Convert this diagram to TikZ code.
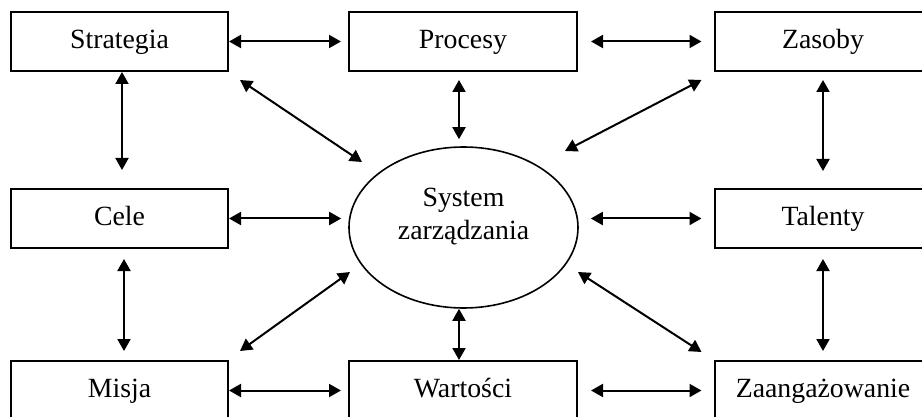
\documentclass[tikz,border=0pt]{standalone}
\usepackage{fontspec}
\setmainfont{Liberation Serif}
\usetikzlibrary{calc,arrows.meta,shapes.geometric}
\begin{document}
\begin{tikzpicture}[x=0.5pt,y=-0.5pt,
  txt/.style={font=\fontsize{13.9}{16.5}\selectfont},
  box/.style={txt,draw,line width=1pt,minimum height=29.5pt,inner sep=0pt,text height=9.6pt,text depth=3pt},
  sidebox/.style={box,minimum width=108.5pt},
  midbox/.style={box,minimum width=114pt},
  arr/.style={{Triangle[length=6pt,width=6.5pt]}-{Triangle[length=6pt,width=6.5pt]},line width=1pt}]
\useasboundingbox (0,0) rectangle (922,417);
\clip (0,0) rectangle (922,417);
\node[sidebox] (strat) at (119.5,41.5) {Strategia};
\node[midbox] (proc) at (463,41.5) {Procesy};
\node[sidebox] (zas) at (823,41.5) {Zasoby};
\node[sidebox] (cele) at (119.5,218.5) {Cele};
\node[sidebox] (tal) at (823,218.5) {Talenty};
\node[sidebox] (misja) at (119.5,390.5) {Misja};
\node[midbox] (wart) at (463,390.5) {Wartości};
\node[sidebox] (zaa) at (823,390.5) {Zaangażowanie};
\node[ellipse,draw,line width=0.8pt,minimum width=114.5pt,minimum height=80.5pt,inner sep=0pt] (sys) at (463.5,227.5) {};
\node[txt,align=center,inner sep=0pt] (systxt) at (463.5,216) {\strut System\\zarządzania\strut};
% horizontal
\draw[arr] (strat.east) -- ($(proc.west)+(-7,0)$);
\draw[arr] ($(proc.east)+(13,0)$) -- ($(zas.west)+(-12,0)$);
\draw[arr] (cele.east) -- ($(cele.east -| sys.west)+(-7,0)$);
\draw[arr] ($(tal.west -| sys.east)+(12,0)$) -- ($(tal.west)+(-12,0)$);
\draw[arr] (misja.east) -- ($(wart.west)+(-7,0)$);
\draw[arr] ($(wart.east)+(13,0)$) -- ($(zaa.west)+(-12,0)$);
% vertical
\draw[arr] ($(strat.south)+(2.5,0)$) -- ($(cele.north)+(2.5,-18)$);
\draw[arr] ($(cele.south)+(4.5,10)$) -- ($(misja.north)+(4.5,-9)$);
\draw[arr] ($(zas.south)+(0,8)$) -- ($(tal.north)+(0,-17)$);
\draw[arr] ($(tal.south)+(0,10)$) -- ($(zaa.north)+(0,-9)$);
\draw[arr] ($(proc.south)+(-4,8)$) -- ($(sys.north)+(-4.5,-7)$);
\draw[arr] ($(sys.south)+(-4.5,0)$) -- ($(wart.north)+(-4,0)$);
% diagonal
\draw[arr] ($(strat.south east)+(11,8)$) -- ($(sys.center)+(-101.5,-65.5)$);
\draw[arr] ($(zas.south west)+(-12,8)$) -- ($(sys.center)+(101.5,-76.5)$);
\draw[arr] ($(sys.center)+(-113.5,44.5)$) -- ($(misja.north east)+(11,-9)$);
\draw[arr] ($(sys.center)+(114.5,44.5)$) -- ($(zaa.north west)+(-12,-8)$);
\end{tikzpicture}
\end{document}
